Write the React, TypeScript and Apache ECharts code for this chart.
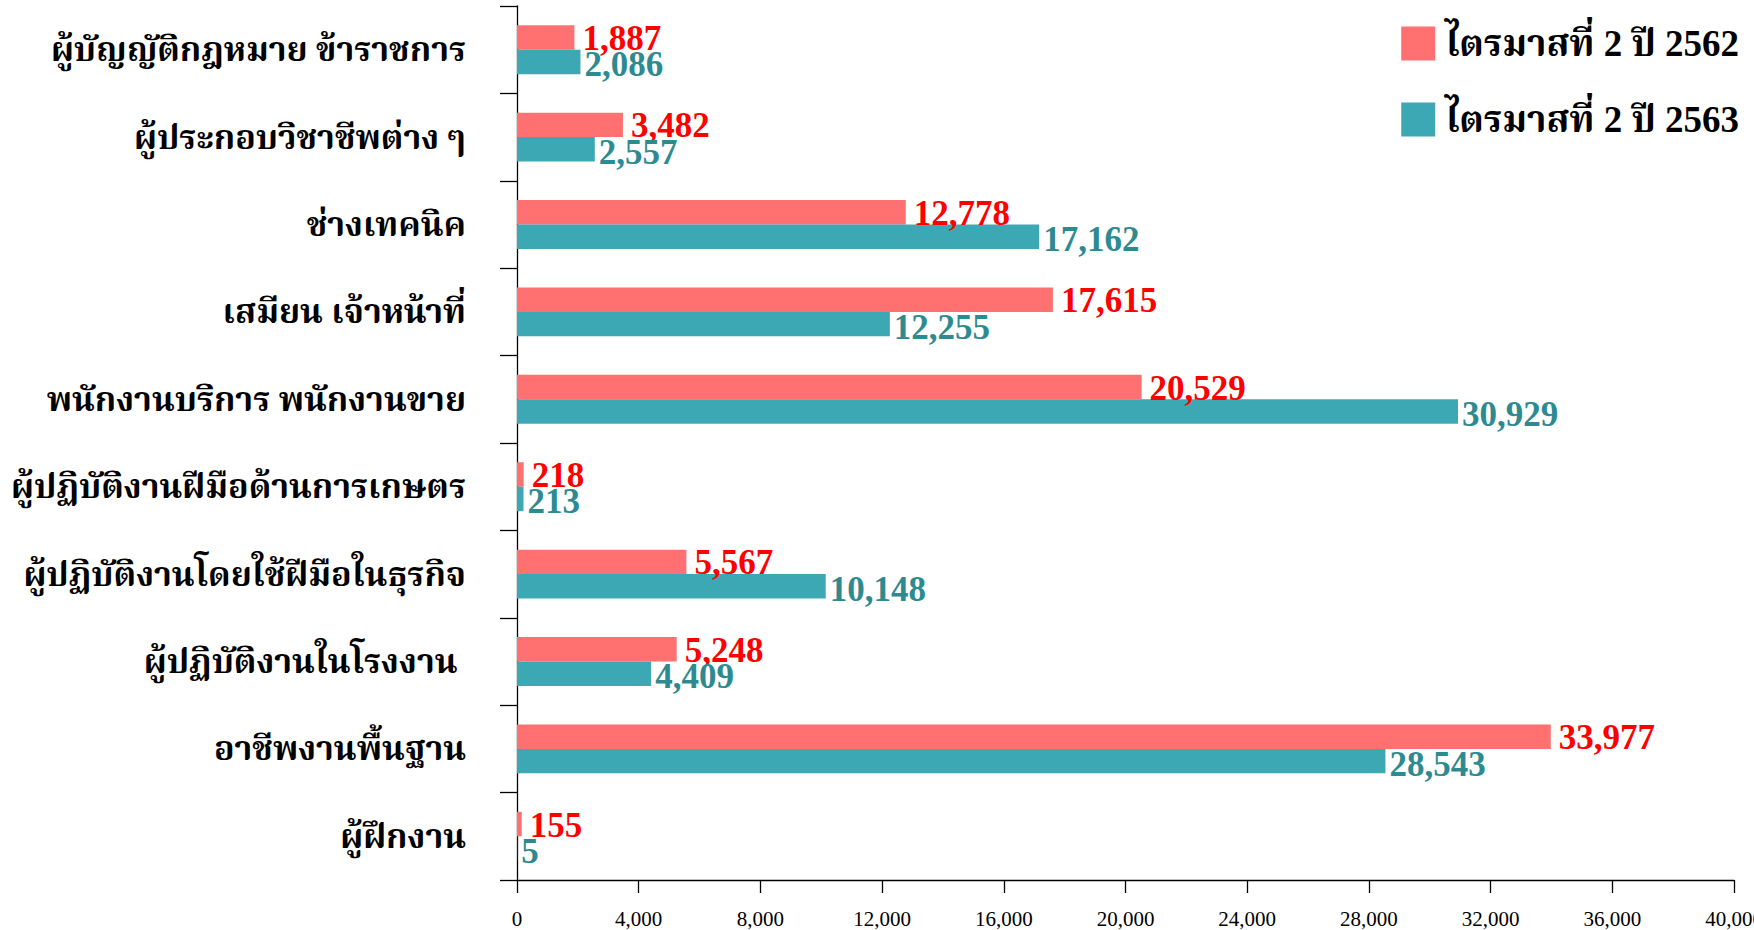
import React, { useEffect, useRef } from "react";
import * as echarts from "echarts";

const categories = [
  "ผู้บัญญัติกฎหมาย ข้าราชการ",
  "ผู้ประกอบวิชาชีพต่าง ๆ",
  "ช่างเทคนิค",
  "เสมียน เจ้าหน้าที่",
  "พนักงานบริการ พนักงานขาย",
  "ผู้ปฏิบัติงานฝีมือด้านการเกษตร",
  "ผู้ปฏิบัติงานโดยใช้ฝีมือในธุรกิจ",
  "ผู้ปฏิบัติงานในโรงงาน ",
  "อาชีพงานพื้นฐาน",
  "ผู้ฝึกงาน",
];
const seriesNames = ["ไตรมาสที่ 2 ปี 2562", "ไตรมาสที่ 2 ปี 2563"];
const values2562 = [1887, 3482, 12778, 17615, 20529, 218, 5567, 5248, 33977, 155];
const values2563 = [2086, 2557, 17162, 12255, 30929, 213, 10148, 4409, 28543, 5];
const xTicks = [0, 4000, 8000, 12000, 16000, 20000, 24000, 28000, 32000, 36000, 40000];

const SERIF =
  "'Liberation Serif', 'Times New Roman', Norasi, 'Noto Serif Thai', 'Tlwg Typo', serif";

export default function App() {
  const ref = useRef<HTMLDivElement>(null);
  useEffect(() => {
    if (!ref.current) return;
    const chart = echarts.init(ref.current, null, { renderer: "svg" });
    const fmt = (v: number) => v.toLocaleString("en-US");
    chart.setOption({
      animation: false,
      backgroundColor: "#ffffff",
      grid: {
        left: 517,
        right: 20,
        top: 6,
        bottom: 50,
        containLabel: false,
        outerBoundsMode: "none",
      },
      legend: {
        orient: "vertical",
        right: 10,
        top: 20,
        itemWidth: 34,
        itemHeight: 34,
        itemGap: 39,
        icon: "rect",
        textStyle: {
          fontFamily: SERIF,
          fontWeight: "bold",
          fontSize: 37,
          color: "#000",
          padding: [0, 0, 0, 5],
        },
        data: seriesNames,
      },
      xAxis: {
        type: "value",
        min: xTicks[0],
        max: xTicks[xTicks.length - 1],
        interval: 4000,
        splitLine: { show: false },
        axisLine: { show: true, lineStyle: { color: "#000", width: 1.3 } },
        axisTick: { show: true, length: 13, lineStyle: { color: "#000", width: 1.3 } },
        axisLabel: {
          margin: 28,
          fontFamily: SERIF,
          fontSize: 21,
          color: "#000",
          hideOverlap: false,
          showMaxLabel: true,
          formatter: (v: number) => fmt(v),
        },
      },
      yAxis: {
        type: "category",
        inverse: true,
        data: categories,
        axisLine: { show: true, lineStyle: { color: "#000", width: 1.3 } },
        axisTick: { show: true, length: 17, lineStyle: { color: "#000", width: 1.3 } },
        axisLabel: {
          margin: 51,
          fontFamily: SERIF,
          fontWeight: "bold",
          fontSize: 34,
          color: "#000",
        },
      },
      series: [
        {
          name: seriesNames[0],
          type: "bar",
          data: values2562,
          barGap: "0%",
          barCategoryGap: "44%",
          itemStyle: { color: "#FF7070" },
          label: {
            show: true,
            position: "right",
            distance: 8,
            offset: [0, 1],
            fontFamily: SERIF,
            fontWeight: "bold",
            fontSize: 35,
            color: "#FF0000",
            formatter: (p: any) => fmt(p.value),
          },
        },
        {
          name: seriesNames[1],
          type: "bar",
          data: values2563,
          itemStyle: { color: "#3CA8B4" },
          label: {
            show: true,
            position: "right",
            distance: 4,
            offset: [0, 3],
            fontFamily: SERIF,
            fontWeight: "bold",
            fontSize: 35,
            color: "#2E8A91",
            formatter: (p: any) => fmt(p.value),
          },
        },
      ],
    });
    return () => chart.dispose();
  }, []);
  return (
    <div
      ref={ref}
      style={{ position: "absolute", left: 0, top: 0, width: 1754, height: 930 }}
    />
  );
}
